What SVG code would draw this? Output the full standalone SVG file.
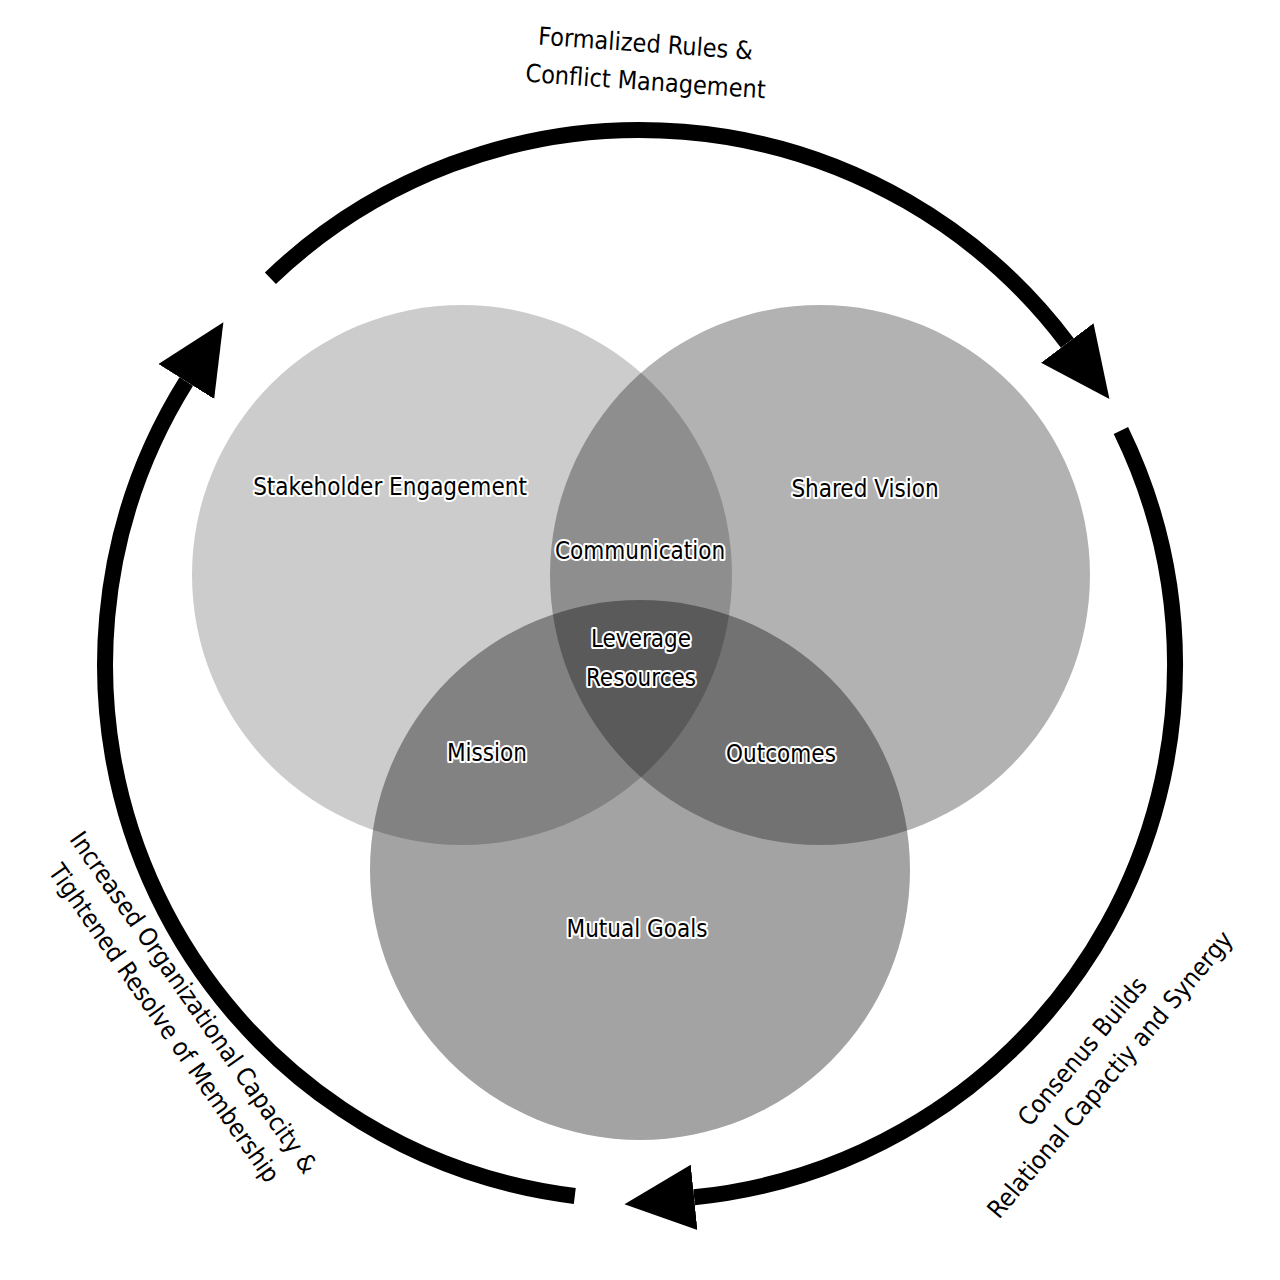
<svg xmlns="http://www.w3.org/2000/svg" width="1280" height="1280" viewBox="0 0 1280 1280">
<style>
.c{fill:#000}
.l{font-family:"DejaVu Sans Condensed","DejaVu Sans",sans-serif;font-size:24px;fill:#000;text-anchor:middle;stroke:#fff;stroke-width:4;stroke-linejoin:round;paint-order:stroke}
.o{font-family:"DejaVu Sans Condensed","DejaVu Sans",sans-serif;font-size:25px;fill:#000;text-anchor:middle}
.a{fill:none;stroke:#000;stroke-width:16}
</style>
<defs>
<marker id="ah" markerUnits="userSpaceOnUse" markerWidth="70" markerHeight="70" refX="0" refY="30" orient="auto" viewBox="0 0 64 60">
<path d="M0,0 L64,30 L0,60 Z" fill="#000"/>
</marker>
</defs>
<rect width="1280" height="1280" fill="#fff"/>
<g id="circle-stakeholder"><circle cx="462" cy="575" r="270" class="c" fill-opacity="0.2"/></g>
<g id="circle-vision"><circle cx="820" cy="575" r="270" class="c" fill-opacity="0.3"/></g>
<g id="circle-goals"><circle cx="640" cy="870" r="270" class="c" fill-opacity="0.36"/></g>
<g id="labels">
<text class="l" x="390" y="495">Stakeholder Engagement</text>
<text class="l" x="865" y="497">Shared Vision</text>
<text class="l" x="640" y="559">Communication</text>
<text class="l" x="641" y="647">Leverage</text>
<text class="l" x="641" y="686">Resources</text>
<text class="l" x="487" y="761">Mission</text>
<text class="l" x="781" y="762">Outcomes</text>
<text class="l" x="637" y="937">Mutual Goals</text>
</g>
<g id="connectors">
<path class="a" d="M270.4,278.2 A535,535 0 0 1 1067.3,343.0" marker-end="url(#ah)"/>
<path class="a" d="M1120.9,430.5 A535,535 0 0 1 694.1,1197.3" marker-end="url(#ah)"/>
<path class="a" d="M574.8,1196 A535,535 0 0 1 186.3,381.5" marker-end="url(#ah)"/>
</g>
<g id="cycle-labels">
<text class="o" x="645" y="52" transform="rotate(4 645 52)">Formalized Rules &amp;</text>
<text class="o" x="645" y="90" transform="rotate(4 645 90)">Conflict Management</text>
<g transform="translate(180,1012) rotate(55)">
<text class="o" x="0" y="-8">Increased Organizational Capacity &amp;</text>
<text class="o" x="0" y="28">Tightened Resolve of Membership</text>
</g>
<g transform="translate(1095,1062) rotate(-50)">
<text class="o" x="0" y="-8">Consenus Builds</text>
<text class="o" x="0" y="28">Relational Capactiy and Synergy</text>
</g>
</g>
</svg>
